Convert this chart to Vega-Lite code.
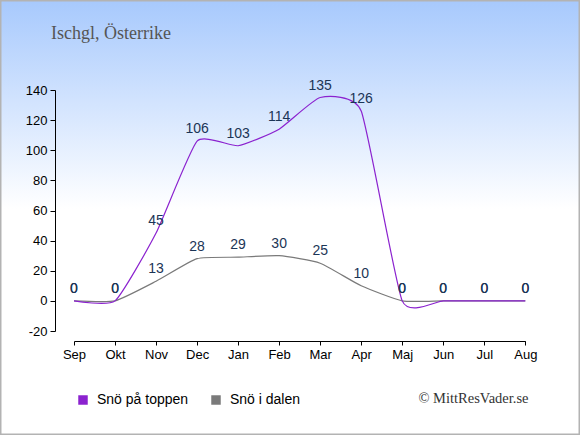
{
  "$schema": "https://vega.github.io/schema/vega-lite/v6.json",
  "width": 580,
  "height": 435,
  "autosize": {"type": "none"},
  "padding": 0,
  "background": "#ffffff",
  "view": {
    "fill": {
      "gradient": "linear",
      "x1": 0, "y1": 0, "x2": 0, "y2": 1,
      "stops": [
        {"offset": 0, "color": "#a7c9fd"},
        {"offset": 0.48, "color": "#ffffff"},
        {"offset": 1, "color": "#ffffff"}
      ]
    },
    "stroke": "#b3b3b3",
    "strokeWidth": 3
  },
  "title": {
    "text": "Ischgl, Österrike",
    "anchor": "start",
    "frame": "group",
    "font": "Liberation Serif",
    "fontSize": 18,
    "fontWeight": "normal",
    "color": "#555555",
    "baseline": "alphabetic",
    "offset": 0,
    "dx": 51,
    "dy": 57
  },
  "data": {
    "values": [
      {"month": "Sep", "series": "Snö i dalen", "value": 0},
      {"month": "Okt", "series": "Snö i dalen", "value": 0},
      {"month": "Nov", "series": "Snö i dalen", "value": 13},
      {"month": "Dec", "series": "Snö i dalen", "value": 28},
      {"month": "Jan", "series": "Snö i dalen", "value": 29},
      {"month": "Feb", "series": "Snö i dalen", "value": 30},
      {"month": "Mar", "series": "Snö i dalen", "value": 25},
      {"month": "Apr", "series": "Snö i dalen", "value": 10},
      {"month": "Maj", "series": "Snö i dalen", "value": 0},
      {"month": "Jun", "series": "Snö i dalen", "value": 0},
      {"month": "Jul", "series": "Snö i dalen", "value": 0},
      {"month": "Aug", "series": "Snö i dalen", "value": 0},
      {"month": "Sep", "series": "Snö på toppen", "value": 0},
      {"month": "Okt", "series": "Snö på toppen", "value": 0},
      {"month": "Nov", "series": "Snö på toppen", "value": 45},
      {"month": "Dec", "series": "Snö på toppen", "value": 106},
      {"month": "Jan", "series": "Snö på toppen", "value": 103},
      {"month": "Feb", "series": "Snö på toppen", "value": 114},
      {"month": "Mar", "series": "Snö på toppen", "value": 135},
      {"month": "Apr", "series": "Snö på toppen", "value": 126},
      {"month": "Maj", "series": "Snö på toppen", "value": 0},
      {"month": "Jun", "series": "Snö på toppen", "value": 0},
      {"month": "Jul", "series": "Snö på toppen", "value": 0},
      {"month": "Aug", "series": "Snö på toppen", "value": 0}
    ]
  },
  "encoding": {
    "x": {
      "field": "month",
      "type": "ordinal",
      "sort": null,
      "scale": {
        "type": "point",
        "domain": ["Sep", "Okt", "Nov", "Dec", "Jan", "Feb", "Mar", "Apr", "Maj", "Jun", "Jul", "Aug"],
        "range": [74, 525.3],
        "padding": 0
      },
      "axis": {
        "orient": "bottom",
        "offset": -94,
        "labelAngle": 0,
        "labelFont": "Liberation Sans",
        "labelFontSize": 13,
        "labelColor": "#000000",
        "labelPadding": 3,
        "tickSize": 4,
        "tickColor": "#000000",
        "domainColor": "#000000",
        "grid": false,
        "title": "© MittResVader.se",
        "titleFont": "Liberation Serif",
        "titleFontSize": 14.5,
        "titleFontWeight": "normal",
        "titleColor": "#333333",
        "titleAnchor": "end",
        "titleAlign": "right",
        "titleBaseline": "alphabetic",
        "titleX": 528,
        "titleY": 61
      }
    },
    "y": {
      "field": "value",
      "type": "quantitative",
      "scale": {"domain": [-20, 140], "range": [331, 90], "nice": false, "zero": false},
      "axis": {
        "orient": "left",
        "offset": -55,
        "values": [-20, 0, 20, 40, 60, 80, 100, 120, 140],
        "labelExpr": "'' + datum.value",
        "labelFont": "Liberation Sans",
        "labelFontSize": 13,
        "labelColor": "#000000",
        "labelPadding": 3,
        "tickSize": 5,
        "tickColor": "#000000",
        "domainColor": "#000000",
        "grid": false,
        "title": null
      }
    }
  },
  "layer": [
    {
      "mark": {"type": "line", "interpolate": "cardinal", "tension": 0.5, "strokeWidth": 1.2},
      "encoding": {
        "color": {
          "field": "series",
          "type": "nominal",
          "scale": {"domain": ["Snö på toppen", "Snö i dalen"], "range": ["#8b22cf", "#7a7a7a"]},
          "legend": {
            "orient": "none",
            "legendX": 76,
            "legendY": 393,
            "direction": "horizontal",
            "title": null,
            "padding": 0,
            "symbolType": "square",
            "symbolSize": 90,
            "symbolStrokeWidth": 0,
            "symbolOpacity": 1,
            "labelFont": "Liberation Sans",
            "labelFontSize": 14,
            "labelColor": "#000000",
            "labelOffset": 7,
            "columnPadding": 20,
            "encode": {
              "symbols": {
                "update": {
                  "fill": {"scale": "color", "field": "value"},
                  "fillOpacity": {"value": 1},
                  "strokeWidth": {"value": 0}
                }
              }
            }
          }
        }
      }
    },
    {
      "mark": {
        "type": "text",
        "font": "Liberation Sans",
        "fontSize": 14,
        "color": "#1b3556",
        "baseline": "alphabetic",
        "dy": -8
      },
      "encoding": {
        "text": {"field": "value", "type": "quantitative"}
      }
    }
  ]
}
